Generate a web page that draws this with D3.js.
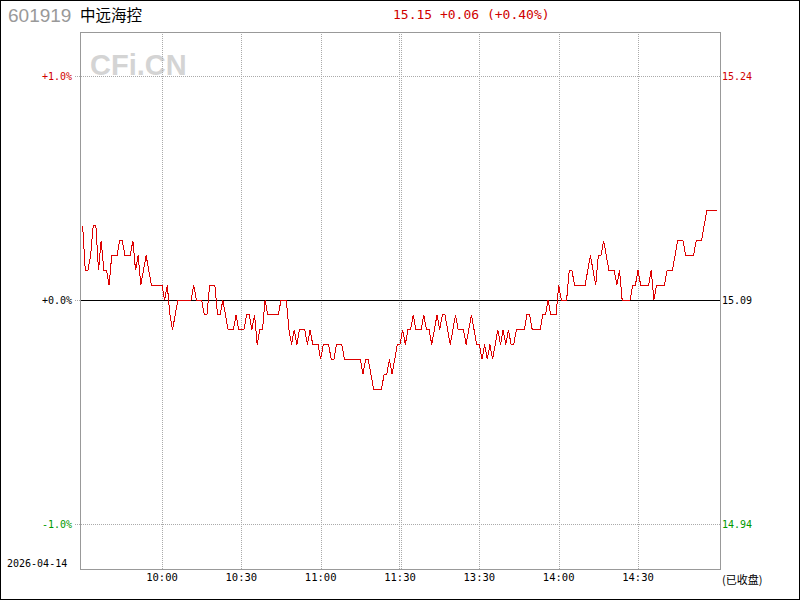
<!DOCTYPE html>
<html>
<head>
<meta charset="utf-8">
<script src="https://cdn.jsdelivr.net/npm/d3@7"></script>
<style>
html,body{margin:0;padding:0;background:#fff;}
svg{display:block;}
</style>
</head>
<body>
<svg id="chart" width="800" height="600"></svg>
<script>
// ---- data ----
const stockCode = "601919";
const stockName = "中远海控";
const quoteText = "15.15 +0.06 (+0.40%)";
const dateLabel = "2026-04-14";
const statusLabel = "(已收盘)";
const prevClose = 15.09;
const pctTicks = [0.01, 0, -0.01];
const pctLabels = ["+1.0%", "+0.0%", "-1.0%"];
const priceLabels = ["15.24", "15.09", "14.94"];
const timeTickIndex = [30, 60, 90, 120, 150, 180, 210];
const timeTickLabels = ["10:00", "10:30", "11:00", "11:30", "13:30", "14:00", "14:30"];
// minute prices, 09:30-11:30 then 13:01-15:00
const prices = [
15.14,15.11,15.11,15.12,15.14,15.14,15.11,15.13,15.11,15.11,
15.10,15.12,15.12,15.12,15.13,15.13,15.12,15.12,15.12,15.13,
15.11,15.12,15.10,15.11,15.12,15.11,15.10,15.10,15.10,15.10,
15.10,15.09,15.10,15.08,15.07,15.08,15.09,15.09,15.09,15.09,
15.09,15.09,15.10,15.09,15.09,15.09,15.08,15.08,15.10,15.10,
15.10,15.08,15.08,15.09,15.08,15.07,15.07,15.07,15.08,15.07,
15.07,15.07,15.08,15.08,15.07,15.08,15.06,15.07,15.07,15.09,
15.08,15.08,15.08,15.08,15.08,15.09,15.09,15.09,15.07,15.06,
15.07,15.06,15.07,15.07,15.07,15.06,15.07,15.06,15.06,15.06,
15.05,15.06,15.06,15.06,15.05,15.05,15.06,15.06,15.06,15.05,
15.05,15.05,15.05,15.05,15.05,15.05,15.04,15.05,15.05,15.04,
15.03,15.03,15.03,15.03,15.04,15.04,15.05,15.04,15.05,15.06,
15.06,15.07,15.06,15.07,15.07,15.08,15.07,15.07,15.07,15.08,
15.07,15.07,15.06,15.07,15.08,15.07,15.08,15.08,15.07,15.06,
15.07,15.08,15.07,15.07,15.07,15.06,15.07,15.08,15.07,15.06,
15.06,15.05,15.06,15.05,15.06,15.05,15.06,15.07,15.06,15.07,
15.06,15.07,15.06,15.06,15.07,15.07,15.07,15.07,15.08,15.08,
15.07,15.07,15.07,15.07,15.08,15.08,15.09,15.08,15.08,15.08,
15.10,15.09,15.09,15.09,15.11,15.11,15.10,15.10,15.10,15.10,
15.10,15.11,15.12,15.11,15.10,15.12,15.12,15.13,15.12,15.11,
15.11,15.11,15.10,15.11,15.09,15.09,15.09,15.09,15.10,15.10,
15.11,15.10,15.10,15.10,15.10,15.11,15.09,15.10,15.10,15.10,
15.10,15.11,15.11,15.11,15.12,15.13,15.13,15.13,15.12,15.12,
15.12,15.12,15.13,15.13,15.13,15.14,15.15,15.15,15.15,15.15,
15.15
];

// ---- layout ----
const svg = d3.select("#chart");
const L = 80, R = 720, T = 32, B = 569;
const x = d3.scaleLinear().domain([-1, 241]).range([L, R]);
const y = d3.scaleLinear().domain([prevClose * 0.99, prevClose * 1.01]).range([524, 76]);
const pctToY = p => y(prevClose * (1 + p));
const mono = "'DejaVu Sans Mono', 'Liberation Mono', monospace";
const cjk = "'Noto Sans CJK SC', 'Noto Sans', sans-serif";

svg.append("rect").attr("x", 0.5).attr("y", 0.5).attr("width", 799).attr("height", 599)
  .attr("fill", "#fff").attr("stroke", "#000").attr("stroke-width", 1);

// watermark
svg.append("text").attr("x", 90).attr("y", 75).text("CFi.CN")
  .attr("font-family", "'Liberation Sans', Arial, sans-serif").attr("font-weight", "bold")
  .attr("font-size", 29).attr("fill", "#d4d4d4");

// header
svg.append("text").attr("x", 8).attr("y", 22).text(stockCode)
  .attr("font-family", "'Liberation Sans', Arial, sans-serif").attr("font-size", 19).attr("fill", "#999");
svg.append("text").attr("x", 80).attr("y", 21).text(stockName)
  .attr("font-family", cjk).attr("font-size", 15.5).attr("fill", "#000");
svg.append("text").attr("x", 393).attr("y", 19).text(quoteText)
  .attr("font-family", mono).attr("font-size", 13).attr("fill", "#d00000");

// grid: vertical
const grid = svg.append("g").attr("stroke", "#aaa").attr("stroke-width", 1).attr("stroke-dasharray", "1,1")
  .attr("shape-rendering", "crispEdges");
timeTickIndex.forEach(i => {
  const xs = i === 120 ? [Math.round(x(i)) - 1, Math.round(x(i)) + 1] : [Math.round(x(i))];
  xs.forEach(xx => grid.append("line").attr("x1", xx + 0.5).attr("x2", xx + 0.5).attr("y1", T).attr("y2", B));
});
// grid: horizontal
pctTicks.forEach(p => {
  const yy = Math.round(pctToY(p)) + 0.5;
  grid.append("line").attr("x1", 75).attr("x2", R).attr("y1", yy).attr("y2", yy);
});
// zero line
svg.append("line").attr("x1", L).attr("x2", R)
  .attr("y1", Math.round(pctToY(0)) + 0.5).attr("y2", Math.round(pctToY(0)) + 0.5)
  .attr("stroke", "#000").attr("stroke-width", 1).attr("shape-rendering", "crispEdges");

// frame
svg.append("rect").attr("x", L + 0.5).attr("y", T + 0.5).attr("width", R - L).attr("height", B - T)
  .attr("fill", "none").attr("stroke", "#999").attr("shape-rendering", "crispEdges");

// y labels
const labColors = ["#d00000", "#000", "#009900"];
pctTicks.forEach((p, k) => {
  const yy = pctToY(p);
  svg.append("text").attr("x", 72).attr("y", yy + 4).attr("text-anchor", "end").text(pctLabels[k])
    .attr("font-family", mono).attr("font-size", 10).attr("fill", labColors[k]);
  svg.append("text").attr("x", 722).attr("y", yy + 4).text(priceLabels[k])
    .attr("font-family", mono).attr("font-size", 10).attr("fill", labColors[k]);
});

// x labels
timeTickIndex.forEach((i, k) => {
  svg.append("text").attr("x", x(i)).attr("y", 581).attr("text-anchor", "middle").text(timeTickLabels[k])
    .attr("font-family", mono).attr("font-size", 10.5).attr("fill", "#000");
});
svg.append("text").attr("x", 7).attr("y", 567).text(dateLabel)
  .attr("font-family", mono).attr("font-size", 10).attr("fill", "#000");
svg.append("text").attr("x", 722).attr("y", 584).text(statusLabel)
  .attr("font-family", cjk).attr("font-size", 11).attr("fill", "#000");

// price line
const line = d3.line().x((d, i) => x(i)).y(d => y(d));
svg.append("path").datum(prices).attr("d", line)
  .attr("fill", "none").attr("stroke", "#dd0000").attr("stroke-width", 1)
  .attr("shape-rendering", "crispEdges");
</script>
</body>
</html>
